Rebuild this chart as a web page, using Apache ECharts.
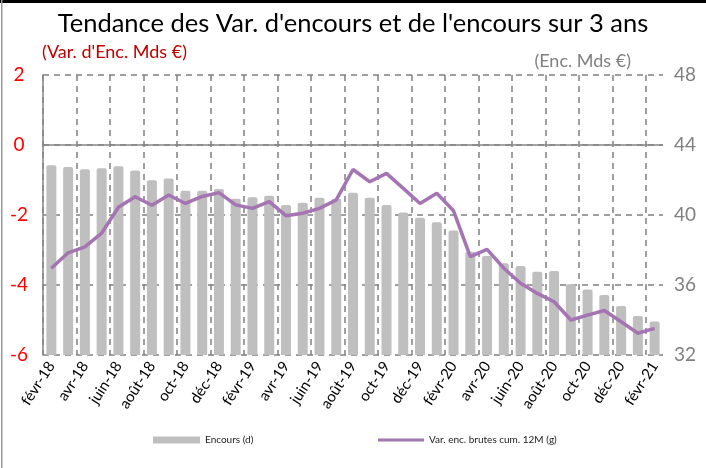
<!DOCTYPE html>
<html>
<head>
<meta charset="utf-8">
<script src="https://cdn.jsdelivr.net/npm/echarts@6/dist/echarts.min.js"></script>
<style>
html,body{margin:0;padding:0;background:#fff;}
#c{width:706px;height:468px;}
</style>
</head>
<body>
<div id="c"></div>
<script>
const categories = ['févr-18','mars-18','avr-18','mai-18','juin-18','juil-18','août-18','sept-18','oct-18','nov-18','déc-18','janv-19',
  'févr-19','mars-19','avr-19','mai-19','juin-19','juil-19','août-19','sept-19','oct-19','nov-19','déc-19','janv-20',
  'févr-20','mars-20','avr-20','mai-20','juin-20','juil-20','août-20','sept-20','oct-20','nov-20','déc-20','janv-21','févr-21'];
const encours = [42.84,42.74,42.61,42.67,42.78,42.55,41.98,42.08,41.39,41.39,41.49,40.93,
  41.01,41.10,40.57,40.70,40.99,40.93,41.27,40.99,40.57,40.15,39.85,39.58,
  39.12,37.90,37.66,37.24,37.09,36.76,36.80,36.04,35.75,35.43,34.80,34.23,33.92];
const varEnc = [-3.52,-3.08,-2.91,-2.52,-1.78,-1.48,-1.72,-1.43,-1.67,-1.47,-1.36,-1.71,
  -1.81,-1.62,-2.02,-1.95,-1.81,-1.57,-0.70,-1.05,-0.81,-1.24,-1.67,-1.38,
  -1.88,-3.19,-2.98,-3.52,-3.95,-4.24,-4.48,-5.00,-4.86,-4.73,-5.05,-5.38,-5.24];
const leftTicks = {min:-6, max:2, interval:2};
const rightTicks = {min:32, max:48, interval:4};

const FONT = 'Lato, "Open Sans", sans-serif';
const chart = echarts.init(document.getElementById('c'), null, {renderer:'canvas'});
chart.setOption({
  animation:false,
  backgroundColor:'#fff',
  title:[
    {text:"Tendance des Var. d'encours et de l'encours sur 3 ans", left:'center', top:6,
      textStyle:{fontFamily:FONT, fontSize:25.5, fontWeight:'normal', color:'#000'}},
    {text:"(Var. d'Enc. Mds €)", left:37, top:38,
      textStyle:{fontFamily:FONT, fontSize:18, fontWeight:'normal', color:'#C00000'}},
    {text:"(Enc. Mds €)", right:70, top:47,
      textStyle:{fontFamily:FONT, fontSize:18, fontWeight:'normal', color:'#808080'}}
  ],
  graphic:[
    {type:'rect', shape:{x:0,y:0,width:706,height:3}, style:{fill:'#000'}},
    {type:'rect', shape:{x:1,y:0,width:1.5,height:468}, style:{fill:'#9a9a9a'}}
  ],
  legend:[
    {data:['Encours (d)'], left:148, top:430, itemWidth:47, itemHeight:7, icon:'rect',
      textStyle:{fontFamily:FONT, fontSize:10, color:'#222'}},
    {data:[{name:'Var. enc. brutes cum. 12M (g)', icon:'rect'}], left:373, top:430, itemWidth:46, itemHeight:3,
      textStyle:{fontFamily:FONT, fontSize:10, color:'#222'}}
  ],
  grid:{left:43, right:43, top:75, bottom:113, outerBoundsMode:'none'},
  xAxis:{
    type:'category', data:categories, boundaryGap:true,
    axisLine:{show:false, onZero:false},
    axisTick:{show:false},
    axisLabel:{interval:1, rotate:57, hideOverlap:false, fontFamily:FONT, fontSize:15, color:'#000', margin:8},
    splitLine:{show:true, interval:1, showMaxLine:false, lineStyle:{color:'#808080', type:[6,5], width:1.5}}
  },
  yAxis:[
    {type:'value', min:leftTicks.min, max:leftTicks.max, interval:leftTicks.interval, position:'left',
      axisLine:{show:true, lineStyle:{color:'#868686', width:1.5}},
      axisTick:{show:false},
      axisLabel:{fontFamily:FONT, fontSize:19, color:'#FF0000', align:'center', margin:24},
      splitLine:{show:true, lineStyle:{color:'#808080', type:[6,5], width:1.5}}},
    {type:'value', min:rightTicks.min, max:rightTicks.max, interval:rightTicks.interval, position:'right',
      axisLine:{show:false}, axisTick:{show:false},
      axisLabel:{fontFamily:FONT, fontSize:19, color:'#808080', align:'center', margin:22},
      splitLine:{show:false}}
  ],
  series:[
    {name:'Encours (d)', type:'bar', yAxisIndex:1, data:encours, barWidth:10,
      itemStyle:{color:'#BFBFBF', borderRadius:[2,2,0,0]}, z:2},
    {name:'Var. enc. brutes cum. 12M (g)', type:'line', yAxisIndex:0, data:varEnc,
      symbol:'none', lineStyle:{color:'#A574B2', width:3.5}, itemStyle:{color:'#A574B2'}, z:4,
      markLine:{silent:true, symbol:'none', label:{show:false},
        lineStyle:{color:'#868686', type:'solid', width:1.5}, data:[{yAxis:0}], z:1}}
  ]
});
</script>
</body>
</html>
